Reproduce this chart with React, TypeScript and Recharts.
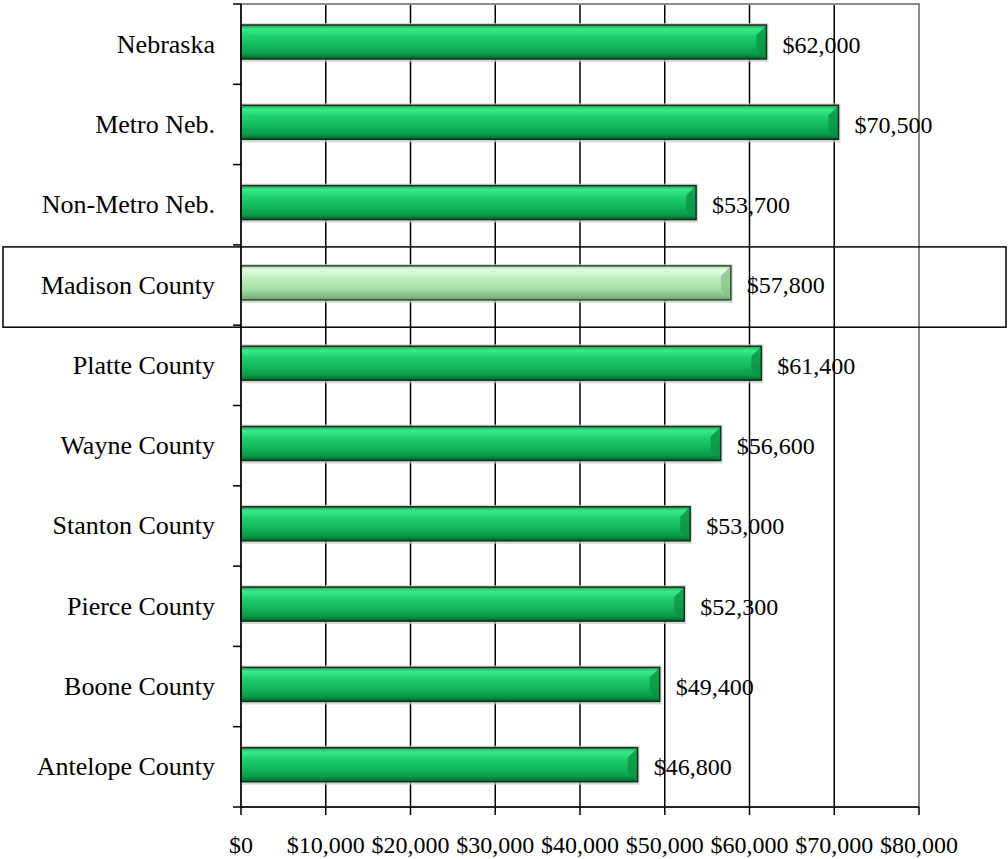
import React from 'react';
import {
  BarChart,
  Bar,
  XAxis,
  YAxis,
  CartesianGrid,
  ReferenceArea,
  LabelList,
} from 'recharts';

// Median household income by area
const areas = [
  'Nebraska',
  'Metro Neb.',
  'Non-Metro Neb.',
  'Madison County',
  'Platte County',
  'Wayne County',
  'Stanton County',
  'Pierce County',
  'Boone County',
  'Antelope County',
];
const incomes = [62000, 70500, 53700, 57800, 61400, 56600, 53000, 52300, 49400, 46800];
const highlighted = ['Madison County'];
const xTicks = [0, 10000, 20000, 30000, 40000, 50000, 60000, 70000, 80000];

const data = areas.map((name, i) => ({ name, value: incomes[i] }));

const FONT = '"Liberation Serif", "Times New Roman", serif';
const money = (v: number) => '$' + v.toLocaleString('en-US');

const W = 1008;
const H = 859;

const BevelBar = (props: any) => {
  const { x, y, width, height, payload } = props;
  if (!width || width <= 0) return null;
  const light = highlighted.includes(payload.name);
  const yy = y - 2;
  const b = Math.min(10, height / 3);
  return (
    <g>
      <rect x={x} y={yy - 2} width={width + 2} height={height + 5} fill="#c8c8c8" opacity={0.7} />
      <rect
        x={x}
        y={yy}
        width={width}
        height={height}
        fill={light ? 'url(#gLight)' : 'url(#gGreen)'}
      />
      <polygon
        points={`${x + width - b},${yy + b} ${x + width},${yy} ${x + width},${yy + height} ${x + width - b},${yy + height - b}`}
        fill={light ? '#8cc48c' : '#0c9445'}
        opacity={0.8}
      />
      <polygon
        points={`${x + width - b},${yy + b} ${x + width},${yy} ${x},${yy} ${x + b},${yy + b}`}
        fill={light ? '#d8f6d8' : '#2fe07e'}
        opacity={0.35}
      />
      <rect
        x={x}
        y={yy}
        width={width}
        height={height}
        fill="none"
        stroke={light ? '#2f4a2f' : '#15301c'}
        strokeWidth={1.5}
      />
    </g>
  );
};

const AreaTick = (props: any) => {
  const { x, y, payload, index, height } = props;
  const half = payload.offset || height / areas.length / 2;
  const axisX = x + 28;
  const isHi = highlighted.includes(payload.value);
  return (
    <g>
      <line x1={axisX - 8} x2={axisX} y1={y - half} y2={y - half} stroke="#000" strokeWidth={1.5} />
      {index === areas.length - 1 && (
        <line x1={axisX - 8} x2={axisX} y1={y + half} y2={y + half} stroke="#000" strokeWidth={1.5} />
      )}
      {isHi && (
        <rect
          x={3}
          y={y - half + 2}
          width={W - 5}
          height={half * 2}
          fill="none"
          stroke="#000"
          strokeWidth={1.5}
        />
      )}
      <text
        x={x + 2}
        y={y}
        textAnchor="end"
        dominantBaseline="central"
        fontFamily={FONT}
        fontSize={26}
        fill="#000"
      >
        {payload.value}
      </text>
    </g>
  );
};

export default function App() {
  return (
    <div style={{ position: 'absolute', left: 0, top: 0, background: '#fff' }}>
      <BarChart
        width={W}
        height={H}
        data={data}
        layout="vertical"
        margin={{ top: 4, right: 89, bottom: 22, left: 0 }}
        barSize={34}
      >
        <defs>
          <linearGradient id="gGreen" x1="0" y1="0" x2="0" y2="1">
            <stop offset="0%" stopColor="#0b8a41" />
            <stop offset="12%" stopColor="#3cf08c" />
            <stop offset="30%" stopColor="#22d270" />
            <stop offset="60%" stopColor="#12b95b" />
            <stop offset="85%" stopColor="#0c9a4a" />
            <stop offset="100%" stopColor="#06602c" />
          </linearGradient>
          <linearGradient id="gLight" x1="0" y1="0" x2="0" y2="1">
            <stop offset="0%" stopColor="#9fd49f" />
            <stop offset="12%" stopColor="#e4ffe4" />
            <stop offset="35%" stopColor="#bff0bf" />
            <stop offset="70%" stopColor="#a4dea4" />
            <stop offset="100%" stopColor="#6fa86f" />
          </linearGradient>
        </defs>
        <CartesianGrid horizontal={false} stroke="#000" strokeWidth={1.5} />
        <XAxis
          type="number"
          domain={[0, 80000]}
          ticks={xTicks}
          tickFormatter={money}
          interval={0}
          height={30}
          axisLine={{ stroke: '#000', strokeWidth: 1.5 }}
          tickLine={{ stroke: '#000', strokeWidth: 1.5 }}
          tickSize={8}
          tickMargin={21}
          tick={{ fill: '#000', fontFamily: FONT, fontSize: 24 }}
        />
        <YAxis
          type="category"
          dataKey="name"
          width={241}
          interval={0}
          axisLine={{ stroke: '#000', strokeWidth: 1.5 }}
          tickLine={false}
          tickSize={8}
          tickMargin={20}
          tick={<AreaTick />}
        />
        <ReferenceArea x1={0} x2={80000} fill="none" stroke="#8c8c8c" strokeWidth={2} ifOverflow="visible" />
        <Bar dataKey="value" shape={<BevelBar />} isAnimationActive={false}>
          <LabelList
            dataKey="value"
            position="right"
            offset={16}
            formatter={(v: any) => money(Number(v))}
            fill="#000"
            fontFamily={FONT}
            fontSize={24}
          />
        </Bar>
      </BarChart>
    </div>
  );
}
